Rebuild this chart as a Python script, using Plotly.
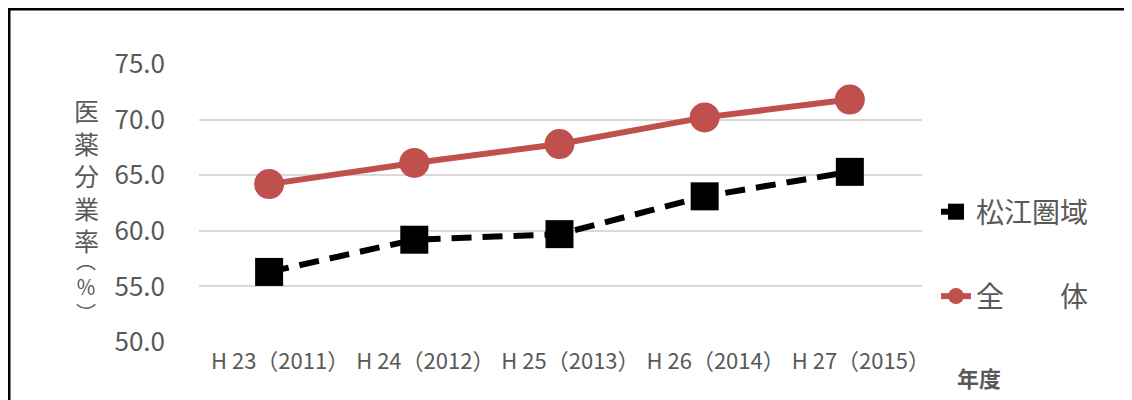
import plotly.graph_objects as go

categories = ["\u3000H 23（2011）", "\u3000H 24（2012）", "\u3000H 25（2013）", "\u3000H 26（2014）", "\u3000H 27（2015）"]
matsue = [56.3, 59.2, 59.7, 63.1, 65.3]
total = [64.2, 66.1, 67.8, 70.2, 71.8]
y_ticks = [50, 55, 60, 65, 70, 75]
y_ticktext = ["50.0", "55.0", "60.0", "65.0", "70.0", "75.0"]
y_title_main = ["医", "薬", "分", "業", "率"]
y_title_unit = ["︵", "％", "︶"]

FONT = "Noto Sans CJK JP"
GRAY = "#595959"

fig = go.Figure()
fig.add_trace(go.Scatter(
    x=categories, y=matsue, name="松江圏域", mode="lines+markers",
    line=dict(color="black", width=6, dash="20px,11px"),
    marker=dict(symbol="square", size=28, color="black"),
    legendgroup="a",
))
fig.add_trace(go.Scatter(
    x=categories, y=total, name="全　　体", mode="lines+markers",
    line=dict(color="#C0504D", width=6),
    marker=dict(symbol="circle", size=30, color="#C0504D"),
    legendgroup="b",
))

OFF = 8  # page body margin
W, H = 1132, 400
PX0, PX1, PY0, PY1 = 199, 922, 64, 342
L = PX0 - OFF
T = PY0 - OFF
R = W - (PX1 - OFF)
B = H - (PY1 - OFF)
pw = PX1 - PX0
ph = PY1 - PY0

def px_x(p):
    return (p - PX0) / pw

def px_y(p):
    return (PY1 - p) / ph

annotations = [
    dict(
        text="<br>".join(y_title_main), xref="paper", yref="paper",
        x=px_x(86), y=px_y(175), xanchor="center", yanchor="middle",
        showarrow=False, font=dict(size=25, color=GRAY, family=FONT),
    ),
    dict(
        text="<br>".join(y_title_unit), xref="paper", yref="paper",
        x=px_x(86), y=px_y(286), xanchor="center", yanchor="middle",
        showarrow=False, font=dict(size=20, color=GRAY, family=FONT),
    ),
    dict(
        text="<b>年度</b>", xref="paper", yref="paper",
        x=px_x(979), y=px_y(377), xanchor="center", yanchor="middle",
        showarrow=False, font=dict(size=22, color=GRAY, family=FONT),
    ),
]

fig.update_layout(
    width=W, height=H,
    margin=dict(l=L, r=R, t=T, b=B, autoexpand=False),
    paper_bgcolor="white", plot_bgcolor="white",
    font=dict(family=FONT, color=GRAY),
    showlegend=True,
    legend=dict(
        x=px_x(936), y=px_y(187), xanchor="left", yanchor="top",
        font=dict(size=28, color=GRAY, family=FONT),
        traceorder="grouped", tracegroupgap=45,
        bgcolor="rgba(0,0,0,0)",
    ),
    xaxis=dict(
        type="category", showgrid=False, showline=False, zeroline=False,
        ticks="", tickfont=dict(size=22, color=GRAY, family=FONT),
        tickangle=0,
        range=[-0.483, 4.497], ticklabelstandoff=4,
    ),
    yaxis=dict(
        range=[50, 75], tickvals=y_ticks, ticktext=y_ticktext,
        showgrid=True, gridcolor="#d9d9d9", gridwidth=1.5,
        zeroline=False, showline=False, ticks="",
        tickfont=dict(size=26, color=GRAY, family=FONT),
        ticklabelstandoff=33,
    ),
    shapes=[dict(
        type="rect", xref="paper", yref="paper",
        x0=px_x(9), x1=px_x(1300), y0=px_y(9), y1=px_y(500),
        line=dict(color="black", width=3), fillcolor="rgba(0,0,0,0)",
    )],
    annotations=annotations,
)

fig.write_html("out.html")
